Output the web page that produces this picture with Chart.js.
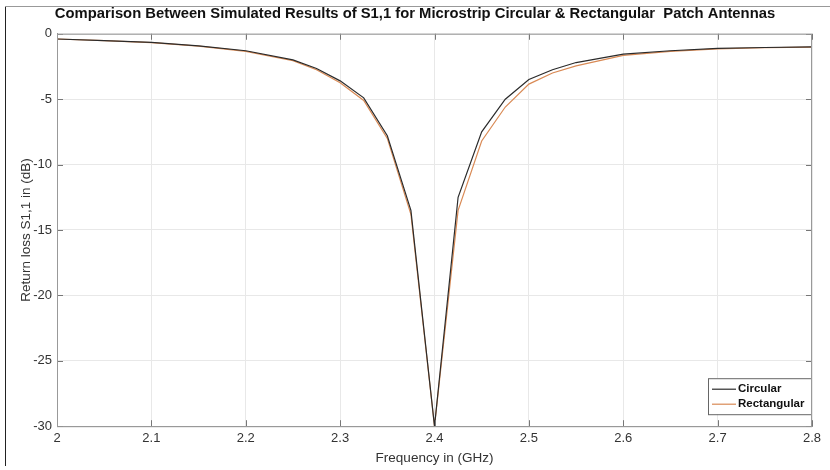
<!DOCTYPE html>
<html>
<head>
<meta charset="utf-8">
<script src="https://cdn.jsdelivr.net/npm/chart.js@4.4.1/dist/chart.umd.min.js"></script>
<style>
  html, body { margin: 0; padding: 0; background: #fff; }
  .frame { width: 830px; height: 470px; position: relative; }
  .frame::before { content: ''; position: absolute; left: 5px; top: 6px; bottom: 4px; width: 1px; background: #222; }
  .frame::after { content: ''; position: absolute; left: 5px; top: 6px; right: 0; height: 1px; background: #999; }
</style>
</head>
<body>
<div class="frame"><canvas id="myChart" width="830" height="470"></canvas></div>
<script>
const freqs = [2.0, 2.05, 2.1, 2.15, 2.2, 2.25, 2.275, 2.3, 2.325, 2.35, 2.375, 2.4, 2.425, 2.45, 2.475, 2.5, 2.525, 2.55, 2.6, 2.65, 2.7, 2.75, 2.8];
const circular = [-0.4, -0.52, -0.66, -0.92, -1.3, -2.0, -2.65, -3.6, -4.9, -7.8, -13.5, -30, -12.5, -7.5, -5.0, -3.5, -2.75, -2.2, -1.55, -1.3, -1.12, -1.05, -1.0];
const rectangular = [-0.4, -0.53, -0.68, -0.95, -1.35, -2.05, -2.75, -3.75, -5.1, -8.0, -13.8, -30, -13.5, -8.2, -5.6, -3.85, -3.0, -2.45, -1.65, -1.35, -1.15, -1.07, -1.02];
const xTicks = [2, 2.1, 2.2, 2.3, 2.4, 2.5, 2.6, 2.7, 2.8];
const yTicks = [0, -5, -10, -15, -20, -25, -30];

const toPoints = (ys) => freqs.map((f, i) => ({ x: f, y: ys[i] }));
const FONT = '"Liberation Sans", Arial, sans-serif';

// legend box drawn inside plot area, bottom right
const boxLegend = {
  id: 'boxLegend',
  afterDatasetsDraw(chart) {
    const { ctx, chartArea } = chart;
    const w = 104, h = 36;
    const x = chartArea.right - w, y = chartArea.bottom - h - 12;
    ctx.save();
    ctx.fillStyle = '#fff';
    ctx.fillRect(x, y, w, h);
    ctx.strokeStyle = '#666';
    ctx.lineWidth = 1;
    ctx.strokeRect(x + 0.5, y + 0.5, w - 1, h);
    ctx.font = 'bold 11.5px ' + FONT;
    ctx.textBaseline = 'middle';
    chart.data.datasets.forEach((ds, i) => {
      const ly = y + 11 + i * 15;
      ctx.strokeStyle = ds.borderColor;
      ctx.lineWidth = 1.2;
      ctx.beginPath();
      ctx.moveTo(x + 4, ly);
      ctx.lineTo(x + 28, ly);
      ctx.stroke();
      ctx.fillStyle = '#111';
      ctx.fillText(ds.label, x + 30, ly);
    });
    ctx.restore();
  }
};

// small inward tick marks like the original plot
const innerTicks = {
  id: 'innerTicks',
  afterDraw(chart) {
    const { ctx, chartArea, scales } = chart;
    ctx.save();
    ctx.strokeStyle = '#777';
    ctx.lineWidth = 1;
    ctx.beginPath();
    xTicks.forEach(v => {
      const px = Math.round(scales.x.getPixelForValue(v)) + 0.5;
      ctx.moveTo(px, chartArea.bottom); ctx.lineTo(px, chartArea.bottom - 6);
      ctx.moveTo(px, chartArea.top); ctx.lineTo(px, chartArea.top + 6);
    });
    yTicks.forEach(v => {
      const py = Math.round(scales.y.getPixelForValue(v)) + 0.5;
      ctx.moveTo(chartArea.left, py); ctx.lineTo(chartArea.left + 6, py);
      ctx.moveTo(chartArea.right, py); ctx.lineTo(chartArea.right - 6, py);
    });
    ctx.stroke();
    ctx.strokeStyle = '#999';
    ctx.strokeRect(chartArea.left + 0.5, chartArea.top + 0.5, chartArea.width - 1, chartArea.height);
    ctx.restore();
  }
};

const ctx = document.getElementById('myChart');
new Chart(ctx, {
  type: 'line',
  data: {
    datasets: [{
      label: 'Circular',
      data: toPoints(circular),
      borderColor: '#2b2b2b',
      borderWidth: 1.2,
      pointRadius: 0,
      tension: 0
    }, {
      label: 'Rectangular',
      data: toPoints(rectangular),
      borderColor: '#d98a55',
      borderWidth: 1.2,
      pointRadius: 0,
      tension: 0
    }]
  },
  options: {
    responsive: false,
    animation: false,
    layout: { padding: { top: 1, right: 18, left: 18, bottom: 4 } },
    plugins: {
      legend: { display: false },
      tooltip: { enabled: false },
      title: {
        display: true,
        text: 'Comparison Between Simulated Results of S1,1 for Microstrip Circular & Rectangular  Patch Antennas',
        color: '#111',
        font: { family: FONT, size: 14.8, weight: 'bold' },
        padding: { top: 4, bottom: 11 }
      }
    },
    scales: {
      x: {
        type: 'linear',
        min: 2,
        max: 2.8,
        afterBuildTicks: (scale) => { scale.ticks = xTicks.map(v => ({ value: v })); },
        ticks: {
          color: '#333',
          font: { family: FONT, size: 13 },
          padding: 4,
          maxRotation: 0,
          callback: (v) => String(v)
        },
        grid: { color: '#e8e8e8', drawTicks: false },
        border: { color: '#999' },
        title: {
          display: true,
          text: 'Frequency in (GHz)',
          color: '#333',
          font: { family: FONT, size: 13.5 },
          padding: { top: 0, bottom: 0 }
        }
      },
      y: {
        min: -30,
        max: 0,
        afterBuildTicks: (scale) => { scale.ticks = yTicks.map(v => ({ value: v })); },
        afterFit: (scale) => { scale.width = 39; },
        ticks: {
          color: '#333',
          font: { family: FONT, size: 13 },
          padding: 5
        },
        grid: { color: '#e8e8e8', drawTicks: false },
        border: { color: '#999' },
        title: {
          display: true,
          text: 'Return loss S1,1 in (dB)',
          color: '#333',
          font: { family: FONT, size: 13.5 },
          padding: { top: 0, bottom: 2 }
        }
      }
    }
  },
  plugins: [boxLegend, innerTicks]
});
</script>
</body>
</html>
